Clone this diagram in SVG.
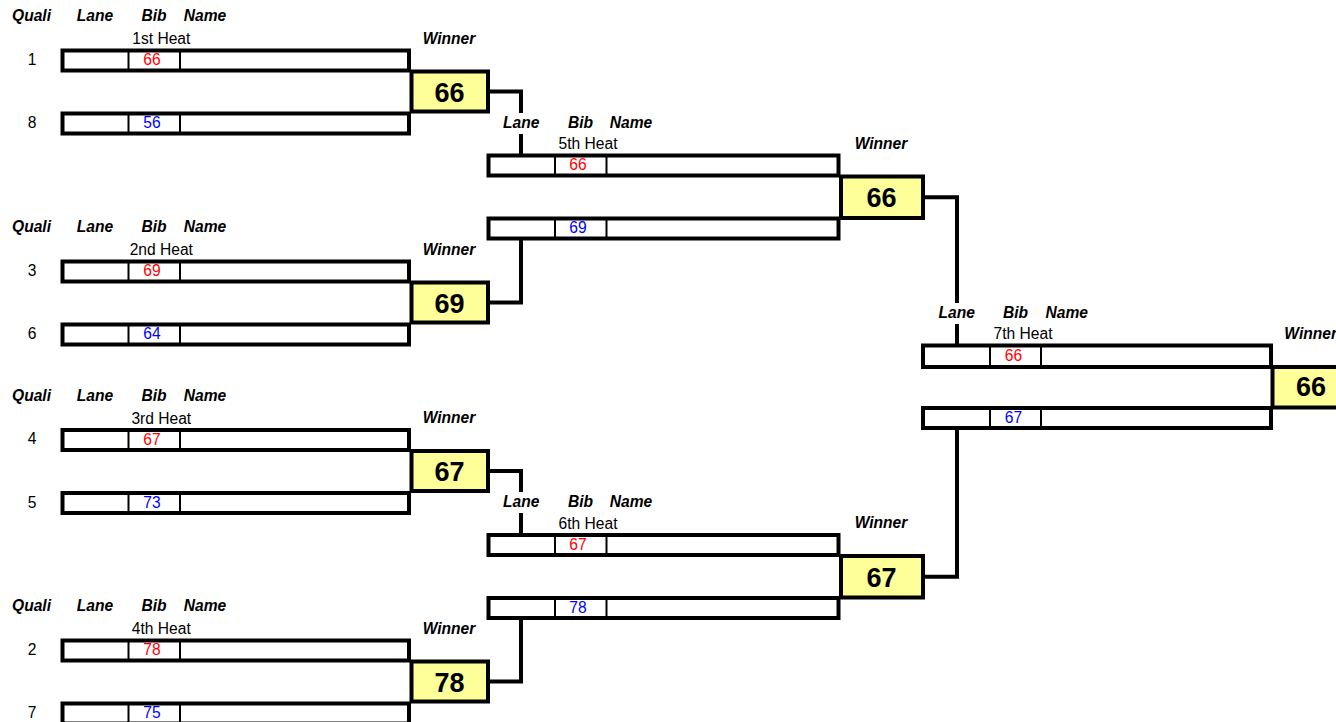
<svg xmlns="http://www.w3.org/2000/svg" width="1336" height="722" viewBox="0 0 1336 722">
<style>
text{font-family:"Liberation Sans",Arial,sans-serif;fill:#000}
.h{font-size:15.6px;font-weight:bold;font-style:italic;text-anchor:middle}
.t{font-size:15.6px}
.m{text-anchor:middle}
.r{fill:#FF0000;font-size:15.6px;text-anchor:middle}
.b{fill:#0000FF;font-size:15.6px;text-anchor:middle}
.w{font-size:27px;font-weight:bold;text-anchor:middle}
.box{fill:#fff;stroke:#000;stroke-width:4}
.win{fill:#FFFF99;stroke:#000;stroke-width:4}
.div{stroke:#000;stroke-width:2}
.con{fill:none;stroke:#000;stroke-width:4}
</style>
<rect width="1336" height="722" fill="#fff"/>
<g id="connectors">
<polyline class="con" points="490,91.5 521,91.5 521,113"/>
<line class="con" x1="521" y1="134" x2="521" y2="155.5"/>
<polyline class="con" points="490,302.5 521,302.5 521,238.5"/>
<polyline class="con" points="490,471 521,471 521,492"/>
<line class="con" x1="521" y1="513" x2="521" y2="535"/>
<polyline class="con" points="490,681.5 521,681.5 521,618"/>
<polyline class="con" points="925,197.3 957,197.3 957,303"/>
<line class="con" x1="957" y1="324" x2="957" y2="345.5"/>
<polyline class="con" points="925,576.8 957,576.8 957,428"/>
</g>
<g id="heat1">
<text class="h" x="31.5" y="21">Quali</text><text class="h" x="95" y="21">Lane</text><text class="h" x="154" y="21">Bib</text><text class="h" x="205" y="21">Name</text>
<text class="t m" x="161.3" y="44.3">1st Heat</text><text class="h" x="449" y="43.5">Winner</text>
<rect class="box" x="62.5" y="50.5" width="346.5" height="20"/><line class="div" x1="128.5" y1="50.5" x2="128.5" y2="70.5"/><line class="div" x1="180" y1="50.5" x2="180" y2="70.5"/>
<rect class="box" x="62.5" y="113.5" width="346.5" height="20"/><line class="div" x1="128.5" y1="113.5" x2="128.5" y2="133.5"/><line class="div" x1="180" y1="113.5" x2="180" y2="133.5"/>
<text class="t m" x="32" y="64.5">1</text><text class="t m" x="32" y="128">8</text>
<text class="r" x="152" y="65">66</text><text class="b" x="152" y="128">56</text>
<rect class="win" x="411.5" y="71.5" width="76.5" height="40"/><text class="w" x="449.5" y="101.5">66</text>
</g>
<g id="heat2">
<text class="h" x="31.5" y="232">Quali</text><text class="h" x="95" y="232">Lane</text><text class="h" x="154" y="232">Bib</text><text class="h" x="205" y="232">Name</text>
<text class="t m" x="161.3" y="255.3">2nd Heat</text><text class="h" x="449" y="254.5">Winner</text>
<rect class="box" x="62.5" y="261.5" width="346.5" height="20"/><line class="div" x1="128.5" y1="261.5" x2="128.5" y2="281.5"/><line class="div" x1="180" y1="261.5" x2="180" y2="281.5"/>
<rect class="box" x="62.5" y="324.5" width="346.5" height="20"/><line class="div" x1="128.5" y1="324.5" x2="128.5" y2="344.5"/><line class="div" x1="180" y1="324.5" x2="180" y2="344.5"/>
<text class="t m" x="32" y="275.5">3</text><text class="t m" x="32" y="339">6</text>
<text class="r" x="152" y="276">69</text><text class="b" x="152" y="339">64</text>
<rect class="win" x="411.5" y="282.5" width="76.5" height="40"/><text class="w" x="449.5" y="312.5">69</text>
</g>
<g id="heat3">
<text class="h" x="31.5" y="400.5">Quali</text><text class="h" x="95" y="400.5">Lane</text><text class="h" x="154" y="400.5">Bib</text><text class="h" x="205" y="400.5">Name</text>
<text class="t m" x="161.3" y="423.8">3rd Heat</text><text class="h" x="449" y="423">Winner</text>
<rect class="box" x="62.5" y="430" width="346.5" height="20"/><line class="div" x1="128.5" y1="430" x2="128.5" y2="450"/><line class="div" x1="180" y1="430" x2="180" y2="450"/>
<rect class="box" x="62.5" y="493" width="346.5" height="20"/><line class="div" x1="128.5" y1="493" x2="128.5" y2="513"/><line class="div" x1="180" y1="493" x2="180" y2="513"/>
<text class="t m" x="32" y="444">4</text><text class="t m" x="32" y="507.5">5</text>
<text class="r" x="152" y="444.5">67</text><text class="b" x="152" y="507.5">73</text>
<rect class="win" x="411.5" y="451" width="76.5" height="40"/><text class="w" x="449.5" y="481">67</text>
</g>
<g id="heat4">
<text class="h" x="31.5" y="611">Quali</text><text class="h" x="95" y="611">Lane</text><text class="h" x="154" y="611">Bib</text><text class="h" x="205" y="611">Name</text>
<text class="t m" x="161.3" y="634.3">4th Heat</text><text class="h" x="449" y="633.5">Winner</text>
<rect class="box" x="62.5" y="640.5" width="346.5" height="20"/><line class="div" x1="128.5" y1="640.5" x2="128.5" y2="660.5"/><line class="div" x1="180" y1="640.5" x2="180" y2="660.5"/>
<rect class="box" x="62.5" y="703.5" width="346.5" height="20"/><line class="div" x1="128.5" y1="703.5" x2="128.5" y2="723.5"/><line class="div" x1="180" y1="703.5" x2="180" y2="723.5"/>
<text class="t m" x="32" y="654.5">2</text><text class="t m" x="32" y="718">7</text>
<text class="r" x="152" y="655">78</text><text class="b" x="152" y="718">75</text>
<rect class="win" x="411.5" y="661.5" width="76.5" height="40"/><text class="w" x="449.5" y="691.5">78</text>
</g>
<g id="heat5">
<text class="h" x="521.3" y="128">Lane</text><text class="h" x="580.5" y="128">Bib</text><text class="h" x="631" y="128">Name</text>
<text class="t m" x="588" y="149.3">5th Heat</text><text class="h" x="881" y="149">Winner</text>
<rect class="box" x="488.5" y="155.5" width="350" height="20"/><line class="div" x1="555" y1="155.5" x2="555" y2="175.5"/><line class="div" x1="606.5" y1="155.5" x2="606.5" y2="175.5"/>
<rect class="box" x="488.5" y="218.5" width="350" height="20"/><line class="div" x1="555" y1="218.5" x2="555" y2="238.5"/><line class="div" x1="606.5" y1="218.5" x2="606.5" y2="238.5"/>
<text class="r" x="578" y="170">66</text><text class="b" x="578" y="233">69</text>
<rect class="win" x="841" y="176.5" width="82" height="41.5"/><text class="w" x="881.5" y="207.3">66</text>
</g>
<g id="heat6">
<text class="h" x="521.3" y="507.3">Lane</text><text class="h" x="580.5" y="507.3">Bib</text><text class="h" x="631" y="507.3">Name</text>
<text class="t m" x="588" y="528.5">6th Heat</text><text class="h" x="881" y="528">Winner</text>
<rect class="box" x="488.5" y="535" width="350" height="20"/><line class="div" x1="555" y1="535" x2="555" y2="555"/><line class="div" x1="606.5" y1="535" x2="606.5" y2="555"/>
<rect class="box" x="488.5" y="598" width="350" height="20"/><line class="div" x1="555" y1="598" x2="555" y2="618"/><line class="div" x1="606.5" y1="598" x2="606.5" y2="618"/>
<text class="r" x="578" y="549.5">67</text><text class="b" x="578" y="612.5">78</text>
<rect class="win" x="841" y="556" width="82" height="41.5"/><text class="w" x="881.5" y="587">67</text>
</g>
<g id="heat7">
<text class="h" x="956.7" y="318.3">Lane</text><text class="h" x="1015.5" y="318.3">Bib</text><text class="h" x="1066.7" y="318.3">Name</text>
<text class="t m" x="1023" y="339.3">7th Heat</text><text class="h" x="1284.3" y="339" style="text-anchor:start">Winner</text>
<rect class="box" x="923" y="345.5" width="348" height="21.5"/><line class="div" x1="990" y1="345.5" x2="990" y2="367"/><line class="div" x1="1041" y1="345.5" x2="1041" y2="367"/>
<rect class="box" x="923" y="408" width="348" height="20"/><line class="div" x1="990" y1="408" x2="990" y2="428"/><line class="div" x1="1041" y1="408" x2="1041" y2="428"/>
<text class="r" x="1013.5" y="360.7">66</text><text class="b" x="1013.5" y="423">67</text>
<rect class="win" x="1272.5" y="367" width="80" height="40.5"/><text class="w" x="1311" y="396">66</text>
</g>
</svg>
